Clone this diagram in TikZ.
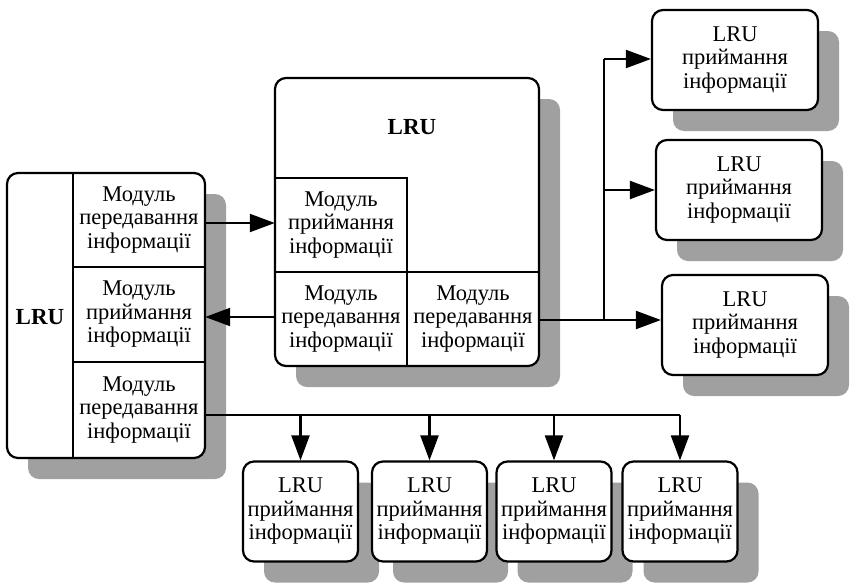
\documentclass[tikz,border=0pt]{standalone}
\usepackage{fontspec}
\setmainfont{Liberation Serif}
\usetikzlibrary{arrows.meta,shadows}
\definecolor{shgray}{RGB}{160,160,160}
\tikzset{
  txt/.style={font=\fontsize{22.5}{23.5}\selectfont, align=center, inner sep=0pt},
  unit/.style={draw, line width=2.2pt, rounded corners=11pt, fill=white,
    drop shadow={shadow xshift=21pt, shadow yshift=-21pt, fill=shgray, opacity=1},
    inner sep=0pt},
  rxbox/.style={unit, txt, minimum width=166pt, minimum height=100pt},
  bxbox/.style={unit, txt, minimum width=115pt, minimum height=100pt},
  cell/.style={txt, minimum width=#1, minimum height=94pt},
  divider/.style={line width=1.9pt},
  link/.style={line width=2.1pt},
  arr/.style={link, -{Triangle[length=25pt, width=18pt]}},
}
\begin{document}
\begin{tikzpicture}[x=1pt, y=-1pt]
\useasboundingbox (0,0) rectangle (859,584);

% left composite unit
\node[unit, minimum width=198pt, minimum height=285pt] (lruL) at (106,315.5) {};
\node[txt, font=\fontsize{23}{23.5}\selectfont\bfseries] (lblL) at (40,317) {LRU};
\node[cell=132pt] (mTx1) at (139,220) {Модуль\\передавання\\інформації};
\node[cell=132pt] (mRx)  at (139,314.5) {Модуль\\приймання\\інформації};
\node[cell=132pt] (mTx3) at (139,410) {Модуль\\передавання\\інформації};
\draw[divider] (mTx1.north west) -- (mTx3.south west);
\draw[divider] (mTx1.south west) -- (mTx1.south east);
\draw[divider] (mRx.south west) -- (mRx.south east);

% central composite unit
\node[unit, minimum width=264pt, minimum height=288pt] (lruC) at (407,222) {};
\node[txt, font=\fontsize{23}{23.5}\selectfont\bfseries] (lblC) at (412,127) {LRU};
\node[cell=132pt] (cRx)  at (341,225) {Модуль\\приймання\\інформації};
\node[cell=132pt] (cTx1) at (341,319) {Модуль\\передавання\\інформації};
\node[cell=132pt] (cTx2) at (473,319) {Модуль\\передавання\\інформації};
\draw[divider] (cRx.north west) -- (cRx.north east) -- (cTx1.south east);
\draw[divider] (cTx1.north west) -- (cTx2.north east);

% receiving units on the right
\node[rxbox] (r1) at (735,60)  {LRU\\приймання\\інформації};
\node[rxbox] (r2) at (739,190) {LRU\\приймання\\інформації};
\node[rxbox] (r3) at (745,325) {LRU\\приймання\\інформації};

% receiving units at the bottom
\node[bxbox] (b1) at (300.5,511.5) {LRU\\приймання\\інформації};
\node[bxbox] (b2) at (429.5,511.5) {LRU\\приймання\\інформації};
\node[bxbox] (b3) at (554,511.5)   {LRU\\приймання\\інформації};
\node[bxbox] (b4) at (680,511.5)   {LRU\\приймання\\інформації};

% links between the two composite units
\coordinate (rowA) at (0,223);
\coordinate (rowB) at (0,317);
\draw[arr] (mTx1.east |- rowA) -- (cRx.west |- rowA);
\draw[arr] (cTx1.west |- rowB) -- (mRx.east |- rowB);

% fan-out to the right-hand units
\coordinate (trunkB) at (604,320);
\coordinate (trunkT) at (604,59);
\coordinate (trunkM) at (604,190);
\draw[arr] (cTx2.east |- trunkB) -- (r3.west |- trunkB);
\draw[link] (trunkB) -- (trunkT);
\draw[arr] (trunkT) -- (trunkT -| r1.west);
\draw[arr] (trunkM) -- (trunkM -| r2.west);

% fan-out to the bottom units
\coordinate (busE) at (680,415);
\draw[link] (mTx3.east |- busE) -- (busE);
\draw[arr] (b1.north |- busE) -- (b1.north);
\draw[arr] (b2.north |- busE) -- (b2.north);
\draw[arr] (b3.north |- busE) -- (b3.north);
\draw[arr] (busE) -- (b4.north);
\end{tikzpicture}
\end{document}
